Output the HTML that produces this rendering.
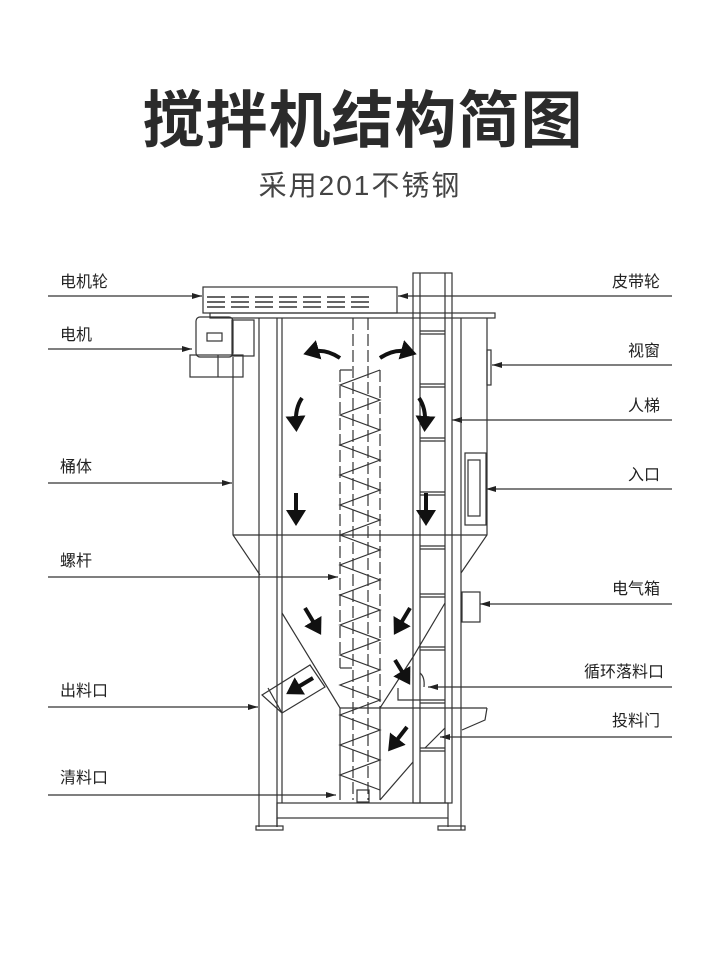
<!DOCTYPE html>
<html><head><meta charset="utf-8"><style>
html,body{margin:0;padding:0;background:#fff;}
body{width:720px;height:960px;overflow:hidden;position:relative;font-family:"Liberation Sans","Noto Sans CJK SC",sans-serif;}
.t{position:absolute;left:0;width:720px;text-align:center;color:#2b2b2b;}
</style></head><body>
<div class="t" style="top:84px;font-size:62px;font-weight:bold;line-height:76px;letter-spacing:1px;padding-left:6px;box-sizing:border-box;">搅拌机结构简图</div>
<div class="t" style="top:167px;font-size:28px;line-height:38px;color:#444;letter-spacing:2px;">采用201不锈钢</div>
<svg width="720" height="960" style="position:absolute;left:0;top:0" xmlns="http://www.w3.org/2000/svg">
<defs>
<marker id="a" markerWidth="10" markerHeight="6" refX="10" refY="3" orient="auto" markerUnits="userSpaceOnUse"><path d="M0,0 L10,3 L0,6 Z" fill="#222"/></marker>
<marker id="b" markerWidth="5" markerHeight="5" refX="2" refY="2.5" orient="auto"><path d="M0,0 L4,2.5 L0,5 Z" fill="#111"/></marker>
</defs>
<g font-size="16" fill="#222" font-family="Liberation Sans,Noto Sans CJK SC,sans-serif">
<text x="60" y="287">电机轮</text>
<text x="60" y="340">电机</text>
<text x="60" y="472">桶体</text>
<text x="60" y="566">螺杆</text>
<text x="60" y="696">出料口</text>
<text x="60" y="783">清料口</text>
<text x="660" y="287" text-anchor="end">皮带轮</text>
<text x="660" y="356" text-anchor="end">视窗</text>
<text x="660" y="411" text-anchor="end">人梯</text>
<text x="660" y="480" text-anchor="end">入口</text>
<text x="660" y="594" text-anchor="end">电气箱</text>
<text x="664" y="677" text-anchor="end">循环落料口</text>
<text x="660" y="726" text-anchor="end">投料门</text>
</g>
<g stroke="#333" stroke-width="1.3" fill="none">
<line x1="48" y1="296" x2="202" y2="296" marker-end="url(#a)"/>
<line x1="48" y1="349" x2="192" y2="349" marker-end="url(#a)"/>
<line x1="48" y1="483" x2="232" y2="483" marker-end="url(#a)"/>
<line x1="48" y1="577" x2="338" y2="577" marker-end="url(#a)"/>
<line x1="48" y1="707" x2="258" y2="707" marker-end="url(#a)"/>
<line x1="48" y1="795" x2="336" y2="795" marker-end="url(#a)"/>
<line x1="672" y1="296" x2="398" y2="296" marker-end="url(#a)"/>
<line x1="672" y1="365" x2="492" y2="365" marker-end="url(#a)"/>
<line x1="672" y1="420" x2="452" y2="420" marker-end="url(#a)"/>
<line x1="672" y1="489" x2="486" y2="489" marker-end="url(#a)"/>
<line x1="672" y1="604" x2="480" y2="604" marker-end="url(#a)"/>
<line x1="672" y1="687" x2="428" y2="687" marker-end="url(#a)"/>
<line x1="672" y1="737" x2="440" y2="737" marker-end="url(#a)"/>
</g>
<g stroke="#333" stroke-width="1.2" fill="none">
<rect x="203" y="287" width="194" height="26"/>
<g stroke-dasharray="18,6" stroke-width="1.6">
<line x1="207" y1="297" x2="373" y2="297"/><line x1="207" y1="302" x2="373" y2="302"/><line x1="207" y1="307" x2="373" y2="307"/>
</g>
<rect x="210" y="313" width="285" height="5"/>
<rect x="196" y="317" width="37" height="40" rx="4"/>
<rect x="207" y="333" width="15" height="8"/>
<rect x="232" y="320" width="22" height="36"/>
<rect x="190" y="355" width="53" height="22"/>
<line x1="218" y1="355" x2="218" y2="377"/>
<polyline points="233,357 233,535 260,575"/>
<polyline points="487,318 487,535 461,573"/>
<line x1="233" y1="535" x2="487" y2="535"/>
<line x1="461" y1="318" x2="461" y2="830"/>
<line x1="259" y1="318" x2="259" y2="827"/>
<line x1="277" y1="318" x2="277" y2="827"/>
<line x1="282" y1="318" x2="282" y2="803"/>
<rect x="256" y="826" width="27" height="4"/>
<rect x="438" y="826" width="27" height="4"/>
<rect x="413" y="273" width="39" height="530"/>
<line x1="420" y1="273" x2="420" y2="803"/>
<line x1="445" y1="273" x2="445" y2="803"/>
<g>
<line x1="420" y1="331" x2="445" y2="331"/><line x1="420" y1="334" x2="445" y2="334"/>
<line x1="420" y1="384" x2="445" y2="384"/><line x1="420" y1="387" x2="445" y2="387"/>
<line x1="420" y1="438" x2="445" y2="438"/><line x1="420" y1="441" x2="445" y2="441"/>
<line x1="420" y1="492" x2="445" y2="492"/><line x1="420" y1="495" x2="445" y2="495"/>
<line x1="420" y1="546" x2="445" y2="546"/><line x1="420" y1="549" x2="445" y2="549"/>
<line x1="420" y1="594" x2="445" y2="594"/><line x1="420" y1="597" x2="445" y2="597"/>
<line x1="420" y1="647" x2="445" y2="647"/><line x1="420" y1="650" x2="445" y2="650"/>
<line x1="420" y1="700" x2="445" y2="700"/><line x1="420" y1="703" x2="445" y2="703"/>
<line x1="420" y1="748" x2="445" y2="748"/><line x1="420" y1="751" x2="445" y2="751"/>
</g>
<rect x="487" y="350" width="4" height="35"/>
<rect x="465" y="453" width="21" height="72"/>
<rect x="468" y="460" width="12" height="56"/>
<rect x="462" y="592" width="18" height="30"/>
<g stroke-dasharray="12,4">
<line x1="340" y1="370" x2="340" y2="668"/>
<line x1="380" y1="370" x2="380" y2="708"/>
<line x1="353" y1="318" x2="353" y2="800"/>
<line x1="368" y1="318" x2="368" y2="800"/>
</g>
<line x1="340" y1="370" x2="352" y2="370"/>
<polyline points="340,668 352,668"/>
<polyline points="380,370 340,385 380,400 340,415 380,430 340,445 380,460 340,475 380,490 340,505 380,520 340,535 380,550 340,565 380,580 340,595 380,610 340,625 380,640 340,655 380,670 340,685 380,700 340,715 380,730 340,745 380,760 340,775 380,790"/>
<polyline points="282,613 340,708 380,708 413,657 445,603"/>
<line x1="380" y1="708" x2="487" y2="708"/>
<polyline points="487,708 485,720 462,730"/>
<line x1="340" y1="708" x2="340" y2="800"/>
<line x1="380" y1="708" x2="380" y2="800"/>
<line x1="413" y1="762" x2="380" y2="800"/>
<line x1="445" y1="728" x2="425" y2="748"/>
<polyline points="398,688 398,700 420,700"/>
<path d="M420,673 q5,4 4,14"/>
<rect x="357" y="790" width="12" height="12"/>
<polygon points="262,695 310,665 325,687 282,713"/>
<line x1="268" y1="688" x2="282" y2="713"/>
<rect x="277" y="803" width="171" height="15"/>
<line x1="277" y1="818" x2="277" y2="827"/><line x1="448" y1="818" x2="448" y2="827"/>
</g>
<g stroke="#111" stroke-width="4" fill="none" marker-end="url(#b)">
<path d="M340,358 Q325,348 311,352"/>
<path d="M380,358 Q395,348 409,352"/>
<path d="M302,398 Q295,408 296,424"/>
<path d="M419,398 Q426,408 425,424"/>
<line x1="296" y1="493" x2="296" y2="518"/>
<line x1="426" y1="493" x2="426" y2="518"/>
<line x1="305" y1="608" x2="317" y2="628"/>
<line x1="410" y1="608" x2="398" y2="628"/>
<line x1="395" y1="660" x2="406" y2="678"/>
<line x1="313" y1="678" x2="293" y2="690"/>
<line x1="407" y1="727" x2="393" y2="745"/>
</g>
</svg>
</body></html>
